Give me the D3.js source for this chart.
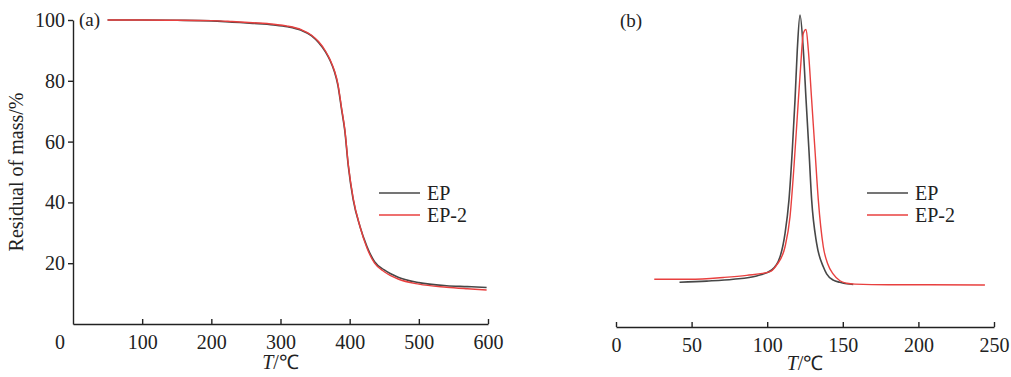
<!DOCTYPE html>
<html>
<head>
<meta charset="utf-8">
<script src="https://cdn.jsdelivr.net/npm/d3@7"></script>
<style>
body { margin: 0; background: #fff; }
svg { display: block; }
text { font-family: "Liberation Serif", "Times New Roman", serif; fill: #222; }
</style>
</head>
<body>
<svg width="1011" height="377"></svg>
<script>
// (a) TGA curves
var tgaT = [50, 100, 150, 200, 230, 260, 290, 310, 330, 345, 355, 365, 372, 378, 383, 388, 393, 398, 405, 415, 425, 436, 450, 470, 500, 540, 570, 598];
var tgaEP = [100, 100, 99.9, 99.7, 99.3, 98.9, 98.4, 97.8, 96.6, 94.8, 92.6, 89.5, 86.5, 83, 78.5, 71, 63.5, 52, 41, 32, 25.5, 20.5, 17.8, 15.4, 13.6, 12.6, 12.3, 12.0];
var tgaEP2 = [100, 100, 99.9, 99.8, 99.5, 99.1, 98.6, 98, 96.8, 95, 92.9, 89.8, 86.8, 83.3, 79, 71.5, 64, 52.5, 41.5, 32, 25, 20, 17.2, 14.8, 13.1, 12.1, 11.6, 11.2];

// (b) DSC curves (arbitrary heat flow units)
var dscT_EP = [42, 60, 77.6, 93, 103, 108.5, 111.8, 114.4, 116.6, 118.4, 119.9, 121.7, 123.9, 125.7, 127.6, 129.4, 132.7, 137.1, 139.3, 143.7, 148.1, 152.6, 156.9];
var dscEP = [14.7, 15.1, 15.7, 16.8, 18.75, 23.1, 30.8, 41.8, 58.2, 74.7, 91.1, 102.6, 91.1, 74.7, 58.2, 41.8, 27.5, 19.8, 17.5, 15.4, 14.7, 14.2, 14.0];
var dscT_EP2 = [25.3, 48.8, 71, 86.4, 101.9, 106.3, 111.8, 115.1, 117.7, 119.9, 122.1, 123.9, 125.7, 127.2, 129.4, 131.6, 133.8, 137.1, 140, 143.7, 148.1, 152.6, 158, 180, 207, 244];
var dscEP2 = [15.7, 15.7, 16.3, 17, 18.2, 20.4, 26.4, 36.3, 52.7, 69.2, 85.6, 96.6, 97.9, 91.1, 74.7, 58.2, 41.8, 26.4, 20.8, 17.4, 15.2, 14.4, 14.1, 13.9, 13.9, 13.8];

var tgaXTicks = [100, 200, 300, 400, 500, 600];
var tgaYTicks = [20, 40, 60, 80, 100];
var dscXTicks = [0, 50, 100, 150, 200, 250];
var seriesNames = ["EP", "EP-2"];
var colors = ["#474747", "#e8403f"];

var svg = d3.select("svg");

// panel (a)
var xA = d3.scaleLinear().domain([0, 600]).range([73, 488]);
var yA = d3.scaleLinear().domain([0, 100]).range([324, 20]);

var axA = svg.append("g")
    .attr("transform", "translate(0,324)")
    .call(d3.axisBottom(xA).tickValues(tgaXTicks).tickSize(-5).tickSizeOuter(0).tickPadding(11));
var ayA = svg.append("g")
    .attr("transform", "translate(73,0)")
    .call(d3.axisLeft(yA).tickValues(tgaYTicks).tickSize(5).tickSizeOuter(0).tickPadding(3));

// origin label sits left of the corner
svg.append("text")
    .attr("x", xA(0) - 13)
    .attr("y", 349)
    .attr("text-anchor", "middle")
    .style("font-size", "20px")
    .text("0");

var lineA = d3.line()
    .x(function(d){ return xA(d[0]); })
    .y(function(d){ return yA(d[1]); })
    .curve(d3.curveMonotoneX);

svg.append("path")
    .attr("d", lineA(d3.zip(tgaT, tgaEP)))
    .attr("fill", "none").attr("stroke", colors[0]).attr("stroke-width", 1.6);
svg.append("path")
    .attr("d", lineA(d3.zip(tgaT, tgaEP2)))
    .attr("fill", "none").attr("stroke", colors[1]).attr("stroke-width", 1.4);

svg.append("text")
    .attr("transform", "translate(23," + ((yA(0) + yA(100)) / 2) + ") rotate(-90)")
    .attr("text-anchor", "middle")
    .style("font-size", "20px")
    .text("Residual of mass/%");

svg.append("text").attr("x", 79).attr("y", 26).style("font-size", "19px").text("(a)");

var tA = svg.append("text")
    .attr("x", (xA(0) + xA(600)) / 2)
    .attr("y", 369)
    .attr("text-anchor", "middle")
    .style("font-size", "20px");
tA.append("tspan").style("font-style", "italic").text("T");
tA.append("tspan").text("/℃");

// panel (b)
var xB = d3.scaleLinear().domain([0, 250]).range([616, 994]);
var yB = d3.scaleLinear().domain([0, 100]).range([327, 23]);

var axB = svg.append("g")
    .attr("transform", "translate(0,327)")
    .call(d3.axisBottom(xB).tickValues(dscXTicks).tickSize(-5).tickSizeOuter(0).tickPadding(11));

var lineB = d3.line()
    .x(function(d){ return xB(d[0]); })
    .y(function(d){ return yB(d[1]); })
    .curve(d3.curveMonotoneX);

svg.append("path")
    .attr("d", lineB(d3.zip(dscT_EP, dscEP)))
    .attr("fill", "none").attr("stroke", colors[0]).attr("stroke-width", 1.6);
svg.append("path")
    .attr("d", lineB(d3.zip(dscT_EP2, dscEP2)))
    .attr("fill", "none").attr("stroke", colors[1]).attr("stroke-width", 1.4);

svg.append("text").attr("x", 620).attr("y", 27).style("font-size", "19px").text("(b)");

var tB = svg.append("text")
    .attr("x", (xB(0) + xB(250)) / 2)
    .attr("y", 370)
    .attr("text-anchor", "middle")
    .style("font-size", "20px");
tB.append("tspan").style("font-style", "italic").text("T");
tB.append("tspan").text("/℃");

// axis styling
svg.selectAll(".domain, .tick line").attr("stroke", "#222").attr("stroke-width", 1.4);
svg.selectAll(".tick text").style("font-size", "20px").attr("fill", "#222")
    .style("font-family", "'Liberation Serif', 'Times New Roman', serif");

// legends
function legend(x0, y0){
    var g = svg.append("g");
    seriesNames.forEach(function(name, i){
        var y = y0 + i * 22;
        g.append("line")
            .attr("x1", x0).attr("x2", x0 + 41)
            .attr("y1", y).attr("y2", y)
            .attr("stroke", colors[i]).attr("stroke-width", 1.6);
        g.append("text")
            .attr("x", x0 + 48).attr("y", y + 7)
            .style("font-size", "20px")
            .text(name);
    });
}
legend(379, 193);
legend(867, 193);
</script>
</body>
</html>
